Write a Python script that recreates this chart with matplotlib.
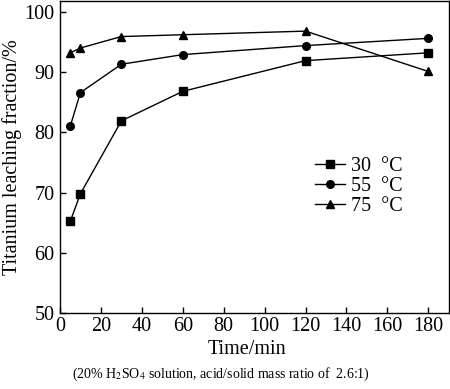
import matplotlib
matplotlib.use("Agg")
import matplotlib.pyplot as plt

# Leaching time (min) and titanium leaching fraction (%) at each temperature
time_min = [5, 10, 30, 60, 120, 180]
frac_30 = [65.2, 69.8, 81.9, 86.8, 91.9, 93.2]
frac_55 = [81.0, 86.6, 91.3, 92.9, 94.4, 95.6]
frac_75 = [93.2, 94.0, 95.9, 96.2, 96.8, 90.1]
labels = ["30  °C", "55  °C", "75  °C"]

plt.rcParams['font.family'] = ['Liberation Serif', 'DejaVu Serif']
plt.rcParams['mathtext.fontset'] = 'stix'

fig = plt.figure(figsize=(4.5, 3.89), dpi=100)
ax = fig.add_axes([0.1333, 0.1954, 0.864, 0.802])

for y, m, lab in zip([frac_30, frac_55, frac_75], ['s', 'o', '^'], labels):
    ax.plot(time_min, y, color='black', marker=m, markersize=5.5, linewidth=1.0, label=lab)

ax.set_xlim(0, 190)
ax.set_ylim(50, 101.8)
ax.set_xticks(range(0, 181, 20))
ax.set_yticks(range(50, 101, 10))
ax.tick_params(direction='in', labelsize=14.5, length=4, width=1,
               top=False, right=False)
ax.tick_params(axis='x', pad=3)
ax.tick_params(axis='y', pad=4)
for s in ax.spines.values():
    s.set_linewidth(1.0)

ax.set_xlabel("Time/min", fontsize=14.5)
ax.xaxis.set_label_coords(0.48, -0.085)
ax.set_ylabel("Titanium leaching fraction/%", fontsize=14.5, labelpad=2)

ax.legend(loc='upper left', bbox_to_anchor=(0.655, 0.5), frameon=False, fontsize=14.5,
          handlelength=1.5, handletextpad=0.3, labelspacing=0.05, borderaxespad=0,
          borderpad=0)

fig.text(0.49, 0.03, "(20% H$_2$SO$_4$ solution, acid/solid mass ratio of  2.6:1)",
         ha='center', fontsize=10)

fig.savefig("out.png", dpi=100)
